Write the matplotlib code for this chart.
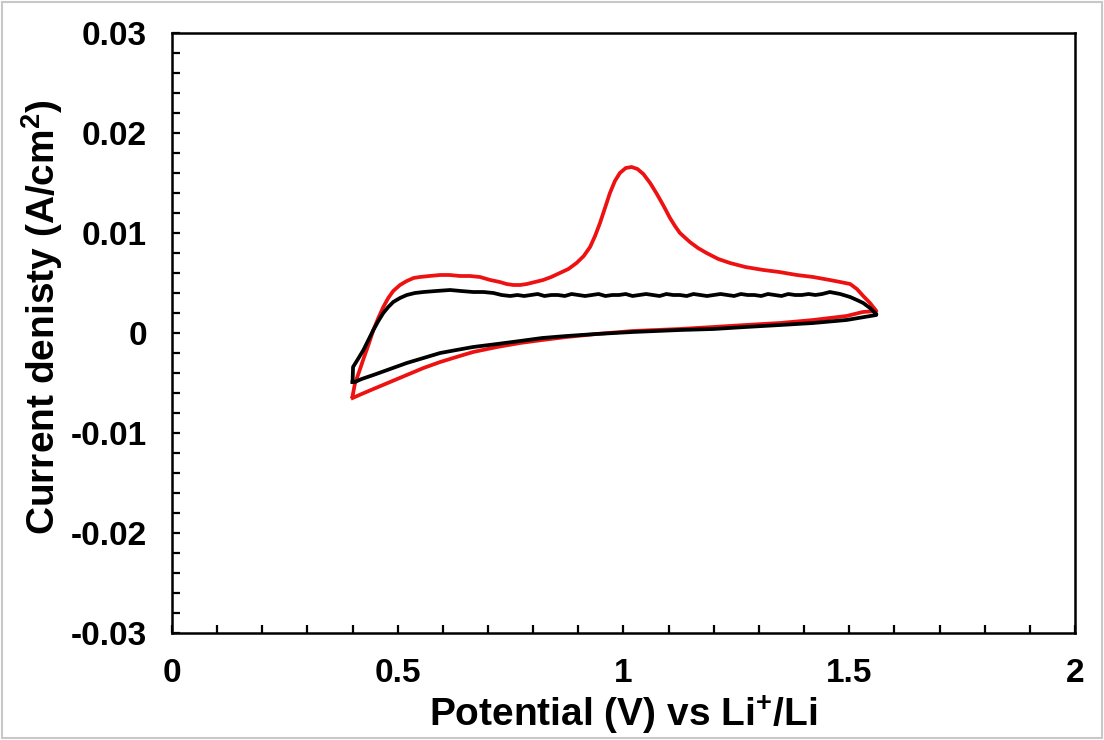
import matplotlib
matplotlib.use("Agg")
import matplotlib.pyplot as plt
from matplotlib.patches import Rectangle

plt.rcParams["font.family"] = ["Liberation Sans", "DejaVu Sans"]
plt.rcParams["font.weight"] = "bold"
plt.rcParams["mathtext.fontset"] = "custom"
plt.rcParams["mathtext.rm"] = "Liberation Sans:bold"
plt.rcParams["mathtext.bf"] = "Liberation Sans:bold"
plt.rcParams["mathtext.it"] = "Liberation Sans:bold"

# red cycle: anodic sweep then return sweep
red_fwd_v = [0.400, 0.405, 0.415, 0.424, 0.435, 0.446, 0.457, 0.468, 0.479, 0.490,
             0.505, 0.520, 0.535, 0.549, 0.570, 0.594, 0.615, 0.638, 0.660, 0.682,
             0.705, 0.726, 0.741, 0.756, 0.771, 0.786, 0.804, 0.822, 0.840, 0.859,
             0.878, 0.896, 0.912, 0.926, 0.937, 0.948, 0.959, 0.970, 0.981, 0.992,
             1.005, 1.018, 1.031, 1.044, 1.059, 1.074, 1.089, 1.103, 1.114, 1.125,
             1.147, 1.165, 1.184, 1.210, 1.236, 1.270, 1.310, 1.345, 1.384, 1.420,
             1.457, 1.480, 1.502, 1.517, 1.531, 1.546, 1.560]
red_fwd_i = [-0.0063, -0.0051, -0.0038, -0.0026, -0.0012, 0.0003, 0.0015, 0.0026, 0.0035, 0.0042,
             0.0048, 0.0052, 0.0055, 0.0056, 0.0057, 0.0058, 0.0058, 0.0057, 0.0057, 0.0056,
             0.0053, 0.0051, 0.0049, 0.0048, 0.0048, 0.0049, 0.0051, 0.0053, 0.0056, 0.0060,
             0.0064, 0.0070, 0.0077, 0.0086, 0.0097, 0.0110, 0.0125, 0.0140, 0.0152, 0.0160,
             0.0165, 0.0166, 0.0164, 0.0159, 0.0150, 0.0139, 0.0127, 0.0115, 0.0107, 0.0100,
             0.0091, 0.0085, 0.0080, 0.0074, 0.0070, 0.0066, 0.0063, 0.0061, 0.0058, 0.0056,
             0.0053, 0.0051, 0.0049, 0.0044, 0.0037, 0.0030, 0.0022]
red_rev_v = [1.560, 1.530, 1.494, 1.420, 1.347, 1.270, 1.199, 1.125, 1.020, 0.940,
             0.874, 0.820, 0.771, 0.720, 0.667, 0.630, 0.594, 0.557, 0.520, 0.483,
             0.446, 0.420, 0.400]
red_rev_i = [0.0022, 0.0021, 0.0017, 0.0013, 0.0010, 0.0008, 0.0006, 0.0004, 0.0002, -0.0001,
             -0.0004, -0.0007, -0.0010, -0.0014, -0.0019, -0.0024, -0.0029, -0.0035, -0.0042, -0.0049,
             -0.0056, -0.0061, -0.0065]

# black cycle
blk_fwd_v = [0.400, 0.401, 0.412, 0.424, 0.435, 0.446, 0.457, 0.468, 0.479, 0.490,
             0.505, 0.520, 0.538, 0.557, 0.585, 0.616, 0.640, 0.667, 0.690, 0.712,
             0.730, 0.749, 0.765, 0.780, 0.795, 0.810, 0.825, 0.840, 0.855, 0.870,
             0.885, 0.900, 0.915, 0.930, 0.945, 0.960, 0.975, 0.990, 1.005, 1.020,
             1.035, 1.050, 1.065, 1.080, 1.095, 1.110, 1.125, 1.140, 1.155, 1.170,
             1.185, 1.200, 1.215, 1.230, 1.245, 1.260, 1.275, 1.290, 1.305, 1.320,
             1.335, 1.350, 1.365, 1.380, 1.395, 1.410, 1.425, 1.440, 1.457, 1.480,
             1.502, 1.517, 1.531, 1.546, 1.560]
blk_fwd_i = [-0.0049, -0.0034, -0.0026, -0.0017, -0.0007, 0.0003, 0.0012, 0.0020, 0.0026, 0.0031,
             0.0035, 0.0038, 0.0040, 0.0041, 0.0042, 0.0043, 0.0042, 0.0041, 0.0041, 0.0040,
             0.0038, 0.0037, 0.0038, 0.0037, 0.0038, 0.0039, 0.0037, 0.0038, 0.0038, 0.0037,
             0.0039, 0.0038, 0.0037, 0.0038, 0.0039, 0.0037, 0.0038, 0.0038, 0.0039, 0.0037,
             0.0038, 0.0039, 0.0038, 0.0037, 0.0039, 0.0038, 0.0038, 0.0037, 0.0039, 0.0038,
             0.0037, 0.0038, 0.0039, 0.0038, 0.0037, 0.0039, 0.0038, 0.0038, 0.0037, 0.0039,
             0.0038, 0.0037, 0.0039, 0.0038, 0.0038, 0.0039, 0.0038, 0.0039, 0.0041, 0.0039,
             0.0036, 0.0033, 0.0030, 0.0025, 0.0019]
blk_rev_v = [1.560, 1.494, 1.420, 1.347, 1.270, 1.199, 1.125, 1.020, 0.940, 0.874,
             0.820, 0.771, 0.720, 0.667, 0.630, 0.594, 0.557, 0.520, 0.483, 0.446,
             0.420, 0.405, 0.400]
blk_rev_i = [0.0018, 0.0013, 0.0010, 0.0008, 0.0006, 0.0004, 0.0003, 0.0001, -0.0001, -0.0003,
             -0.0005, -0.0008, -0.0011, -0.0014, -0.0017, -0.0020, -0.0025, -0.0030, -0.0036, -0.0042,
             -0.0046, -0.0049, -0.0049]

x_ticks = [0, 0.5, 1, 1.5, 2]
x_labels = ["0", "0.5", "1", "1.5", "2"]
y_ticks = [-0.03, -0.02, -0.01, 0, 0.01, 0.02, 0.03]
y_labels = ["-0.03", "-0.02", "-0.01", "0", "0.01", "0.02", "0.03"]

fig = plt.figure(figsize=(11.04, 7.40), dpi=100)
ax = fig.add_axes([0.1558, 0.1446, 0.8179, 0.8108])

ax.plot(red_fwd_v + red_rev_v, red_fwd_i + red_rev_i, color="#ee1111", lw=2.7,
        solid_joinstyle="round")
ax.plot(blk_fwd_v + blk_rev_v, blk_fwd_i + blk_rev_i, color="black", lw=2.7,
        solid_joinstyle="round")

ax.set_xlim(0, 2)
ax.set_ylim(-0.03, 0.03)
ax.set_xticks(x_ticks)
ax.set_xticklabels(x_labels)
ax.set_yticks(y_ticks)
ax.set_yticklabels(y_labels)
ax.set_xticks([k / 10 for k in range(21)], minor=True)
ax.set_yticks([k / 500 for k in range(-15, 16)], minor=True)
ax.tick_params(which="both", direction="in", length=6, width=1.6)
ax.tick_params(axis="x", which="major", labelsize=24, pad=18)
ax.tick_params(axis="y", which="major", labelsize=24, pad=18)
for s in ax.spines.values():
    s.set_linewidth(1.8)

ax.set_xlabel("Potential (V) vs Li$^{+}$/Li", fontsize=28, fontweight="bold", labelpad=3)
ax.set_ylabel("Current denisty (A/cm$^{2}$)", fontsize=28, fontweight="bold")
ax.yaxis.set_label_coords(-0.118, 0.527)

fig.patches.append(Rectangle((0.002, 0.003), 0.996, 0.994, transform=fig.transFigure,
                             fill=False, edgecolor="#c8c8c8", lw=1.5))

fig.savefig("out.png", dpi=100)
